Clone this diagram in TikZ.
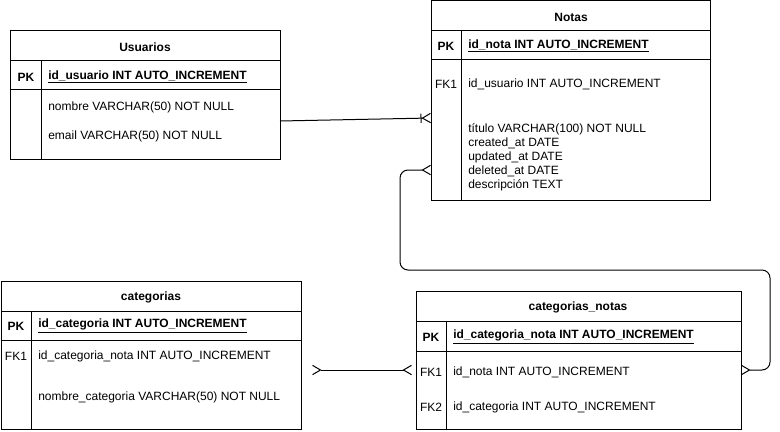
\documentclass[tikz,border=0pt]{standalone}
\usepackage{fontspec}
\setmainfont{Liberation Sans}
\usetikzlibrary{arrows.meta}

\begin{document}
\begin{tikzpicture}[x=0.75pt, y=-0.75pt,
    tabla/.style={draw, line width=0.75pt, inner sep=0pt, outer sep=0pt, anchor=north west},
    titulo/.style={font=\fontsize{9}{11}\selectfont\bfseries, inner sep=0pt, yshift=-0.75pt},
    clave/.style={font=\fontsize{9}{11}\selectfont\bfseries, inner sep=0pt, yshift=-0.75pt},
    etiqueta/.style={font=\fontsize{9}{11}\selectfont, inner sep=0pt, yshift=-0.75pt},
    campo/.style={font=\fontsize{9}{11}\selectfont, anchor=west, inner sep=0pt, yshift=-0.75pt},
    pata/.tip={Straight Barb[reversed, length=6pt, width=7pt, line width=0.75pt]},
    rel/.style={line width=0.75pt},
  ]
        \useasboundingbox (0,0) rectangle (780,431);

        % Tabla Usuarios
        \node[tabla, minimum width=202.5pt, minimum height=96pt] (usuarios) at (10,31) {};
        \draw[line width=0.75pt] (10,61) -- (280,61);
        \draw[line width=0.75pt] (10,90) -- (280,90);
        \draw[line width=0.75pt] (41,61) -- (41,159);
        \node[titulo] (usuariosT) at (145,46) {Usuarios};
        \node[clave] (usuariosPK) at (26,76) {PK};
        \node[campo, font=\fontsize{9}{11}\selectfont\bfseries] (usuariosId) at (48,76) {\underline{id\_usuario INT AUTO\_INCREMENT}};
        \node[campo] (usuariosNombre) at (48,106) {nombre VARCHAR(50) NOT NULL};
        \node[campo] (usuariosEmail) at (48,135) {email VARCHAR(50) NOT NULL};

        % Tabla Notas
        \node[tabla, minimum width=209.25pt, minimum height=149.25pt] (notas) at (431,1) {};
        \draw[line width=0.75pt] (431,31) -- (710,31);
        \draw[line width=0.75pt] (431,60) -- (710,60);
        \draw[line width=0.75pt] (461,31) -- (461,200);
        \node[titulo] (notasT) at (571,16) {Notas};
        \node[clave] (notasPK) at (446,45) {PK};
        \node[campo, font=\fontsize{9}{11}\selectfont\bfseries] (notasId) at (468,45) {\underline{id\_nota INT AUTO\_INCREMENT}};
        \node[etiqueta] (notasFK) at (446,83) {FK1};
        \node[campo] (notasUsuario) at (468,83) {id\_usuario INT AUTO\_INCREMENT};
        \node[campo] (notasTitulo) at (468,128) {título VARCHAR(100) NOT NULL};
        \node[campo] (notasCreated) at (468,142) {created\_at DATE};
        \node[campo] (notasUpdated) at (468,156) {updated\_at DATE};
        \node[campo] (notasDeleted) at (468,170) {deleted\_at DATE};
        \node[campo] (notasDesc) at (468,184) {descripción TEXT};

        % Tabla categorias
        \node[tabla, minimum width=225pt, minimum height=111pt] (categorias) at (1,281) {};
        \draw[line width=0.75pt] (1,311) -- (301,311);
        \draw[line width=0.75pt] (1,340) -- (301,340);
        \draw[line width=0.75pt] (31,311) -- (31,429);
        \node[titulo] (categoriasT) at (151,296) {categorias};
        \node[clave] (categoriasPK) at (16,325) {PK};
        \node[campo, font=\fontsize{9}{11}\selectfont\bfseries] (categoriasId) at (38,325) {\underline{id\_categoria INT AUTO\_INCREMENT}};
        \node[etiqueta] (categoriasFK) at (16,355) {FK1};
        \node[campo] (categoriasNota) at (38,355) {id\_categoria\_nota INT AUTO\_INCREMENT};
        \node[campo] (categoriasNombre) at (38,396) {nombre\_categoria VARCHAR(50) NOT NULL};

        % Tabla categorias_notas
        \node[tabla, minimum width=243.75pt, minimum height=103.5pt] (catnotas) at (416,291) {};
        \draw[line width=0.75pt] (416,321) -- (741,321);
        \draw[line width=0.75pt] (416,351) -- (741,351);
        \draw[line width=0.75pt] (446,321) -- (446,429);
        \node[titulo] (catnotasT) at (578,306) {categorias\_notas};
        \node[clave] (catnotasPK) at (431,336) {PK};
        \node[campo, font=\fontsize{9}{11}\selectfont\bfseries] (catnotasId) at (453,336) {\underline{id\_categoria\_nota INT AUTO\_INCREMENT}};
        \node[etiqueta] (catnotasFKa) at (431,371) {FK1};
        \node[campo] (catnotasNota) at (453,371) {id\_nota INT AUTO\_INCREMENT};
        \node[etiqueta] (catnotasFKb) at (431,406) {FK2};
        \node[campo] (catnotasCat) at (453,406) {id\_categoria INT AUTO\_INCREMENT};

        % Puntos de las relaciones
        \coordinate (usuariosOut) at (280,121);
        \coordinate (notasInA) at (431,118);
        \coordinate (notasInB) at (431,170);
        \coordinate (catnotasInB) at (741,370);
        \coordinate (categoriasOut) at (312,370);
        \coordinate (catnotasInA) at (412,370);

        % Relaciones
        \draw[rel, -{Bar[width=7pt, line width=0.75pt, sep=0pt] pata}] (usuariosOut) -- (notasInA);
        \draw[rel, rounded corners=6pt, {pata}-{pata}] (notasInB) -| (400,270) -| (770,370) -- (catnotasInB);
        \draw[rel, {pata}-{pata}] (categoriasOut) -- (catnotasInA);
\end{tikzpicture}
\end{document}
